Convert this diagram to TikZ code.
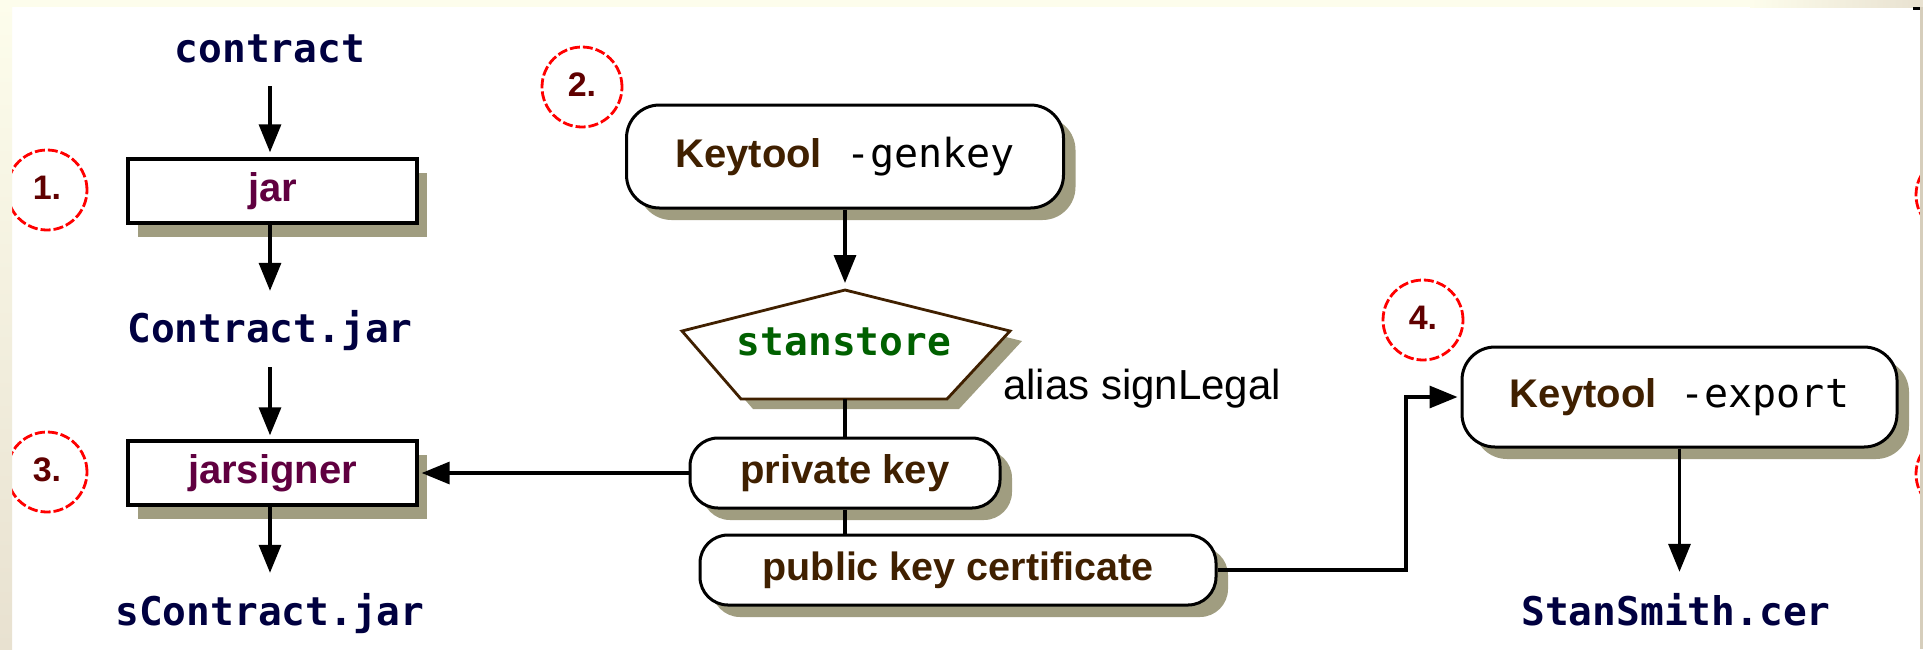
\documentclass[tikz,border=0pt]{standalone}
\usepackage{fontspec}
\setmainfont{Liberation Sans}
\newfontfamily\monof{DejaVu Sans Mono}
\usetikzlibrary{arrows.meta,shadows}
\definecolor{navy}{RGB}{0,0,64}
\definecolor{purp}{RGB}{96,0,64}
\definecolor{brn}{RGB}{64,32,0}
\definecolor{grn}{RGB}{0,96,0}
\definecolor{dred}{RGB}{96,0,0}
\definecolor{shad}{RGB}{160,157,128}
\definecolor{creamA}{RGB}{253,253,236}
\definecolor{creamB}{RGB}{232,225,208}
\definecolor{edgec}{RGB}{214,206,188}
\newcommand{\kt}{{\bfseries\color{brn}Keytool}}
\tikzset{
  mono/.style={font={\monof\bfseries\fontsize{39.5pt}{40pt}\selectfont}, text=navy,
    inner sep=0pt, text height=29pt, text depth=8pt, anchor=base},
  rbox/.style={rectangle, draw=black, line width=3.4pt, fill=white,
    minimum width=289pt, minimum height=64pt, inner sep=0pt,
    text height=29pt, text depth=8pt, text=purp,
    font={\bfseries\fontsize{40pt}{40pt}\selectfont},
    drop shadow={shadow xshift=10pt, shadow yshift=-14pt, fill=shad, opacity=1}},
  sbox/.style={rectangle, draw=black, line width=3pt, fill=white, inner sep=0pt,
    text height=29pt, text depth=8pt, text=brn,
    font={\bfseries\fontsize{40pt}{40pt}\selectfont},
    drop shadow={shadow xshift=12pt, shadow yshift=-12pt, fill=shad, opacity=1}},
  numc/.style={circle, draw=red, line width=2.8pt, dash pattern=on 10pt off 3pt,
    minimum size=80pt, inner sep=0pt, text=dred,
    font={\bfseries\fontsize{34pt}{34pt}\selectfont}},
  arr/.style={draw=black, line width=3.3pt,
    -{Triangle[width=22pt,length=28pt]}, shorten >=4pt},
  conn/.style={draw=black, line width=3.3pt}
}
\begin{document}
\begin{tikzpicture}[x=1pt,y=-1pt]
\useasboundingbox (0,0) rectangle (1923,649);
\fill[white] (0,0) rectangle (1923,649);

% step circles
\node[numc] (n1) at (47,190) {\raisebox{4pt}{1.}};
\node[numc] (n2) at (582,87) {\raisebox{4pt}{2.}};
\node[numc] (n3) at (47,472) {\raisebox{4pt}{3.}};
\node[numc] (n4) at (1423,320) {\raisebox{4pt}{4.}};
\begin{scope}
  \clip (0,0) rectangle (1921,649);
  \node[numc] (n5) at (1956,195) {};
  \node[numc] (n6) at (1956,474) {};
\end{scope}

% left column
\node[mono] (contract) at (270,62) {contract};
\node[rbox] (jar) at (272.5,191) {jar};
\node[mono] (cjar) at (270,342) {Contract.jar};
\node[rbox] (jsig) at (272.5,473) {jarsigner};
\node[mono] (scjar) at (270,625) {sContract.jar};

% keytool genkey
\node[sbox, minimum width=437pt, minimum height=103pt, rounded corners=33pt]
  (genkey) at (845,156.5) {\kt\hspace{24pt}{\monof\mdseries\color{black}-genkey}};

% keystore pentagon
\coordinate (pt) at (845,290);
\coordinate (pl) at (682,331);
\coordinate (pr) at (1010,331);
\coordinate (pbr) at (947,399);
\coordinate (pbl) at (741,399);
\coordinate (pb) at (845,399);
\fill[shad] ([shift={(12,10)}]pt) -- ([shift={(12,10)}]pr) -- ([shift={(12,10)}]pbr)
  -- ([shift={(12,10)}]pbl) -- ([shift={(12,10)}]pl) -- cycle;
\draw[draw=brn, line width=2.8pt, fill=white, line join=miter]
  (pt) -- (pr) -- (pbr) -- (pbl) -- (pl) -- cycle;
\node[font={\monof\bfseries\fontsize{39.5pt}{40pt}\selectfont}, text=grn,
  inner sep=0pt, anchor=base] (store) at (844,355) {stanstore};
\node[font={\fontsize{42pt}{42pt}\selectfont}, inner sep=0pt, anchor=base west]
  (alias) at (1003,399) {alias signLegal};

% keys
\node[sbox, minimum width=310pt, minimum height=70pt, rounded corners=28pt]
  (priv) at (845,473) {private key};
\node[sbox, minimum width=516pt, minimum height=70pt, rounded corners=28pt,
  font={\bfseries\fontsize{39.5pt}{40pt}\selectfont}]
  (pub) at (958,570) {public key certificate};

% keytool export
\node[sbox, minimum width=435pt, minimum height=100pt, rounded corners=33pt]
  (exp) at (1679.5,397) {\kt\hspace{24pt}{\monof\mdseries\color{black}-export}};
\node[mono] (ssc) at (1676,625) {StanSmith.cer};

% connectors
\draw[arr, shorten <=16pt, shorten >=5pt] (contract.south) -- (contract.south |- jar.north);
\draw[arr, shorten >=22pt] (jar.south -| cjar.north) -- (cjar.north);
\draw[arr, shorten <=17pt] (cjar.south) -- (cjar.south |- jsig.north);
\draw[arr, shorten >=23pt] (jsig.south -| scjar.north) -- (scjar.north);
\draw[arr, shorten >=3pt] (priv.west) -- (jsig.east);
\draw[arr, shorten >=7pt] (genkey.south) -- (pt);
\draw[conn] (pb) -- (priv.north);
\draw[conn] (priv.south) -- (priv.south |- pub.north);
\coordinate (bend) at (1406,570);
\draw[arr, shorten >=3pt] (pub.east) -- (bend) |- (exp.west);
\draw[arr, shorten >=24pt] (exp.south) -- (exp.south |- ssc.north);

% frame bands
\fill[creamA] (0,0) rectangle (1750,7);
\shade[left color=creamA, right color=creamB] (1750,0) rectangle (1923,7);
\shade[top color=creamA, bottom color=creamB] (0,0) rectangle (12,649);
\fill[edgec] (1920,7) rectangle (1923,649);
\fill[black] (1913,7) rectangle (1920,10);
\end{tikzpicture}
\end{document}
